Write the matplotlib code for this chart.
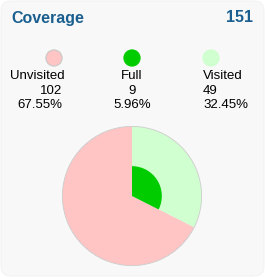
import numpy as np
import matplotlib
matplotlib.use("Agg")
from matplotlib import pyplot as plt
from matplotlib.patches import FancyBboxPatch

title = "Coverage"
total = 151
labels = ["Unvisited", "Full", "Visited"]
counts = [102, 9, 49]
percents = ["67.55%", "5.96%", "32.45%"]
colors = ["#ffc4c4", "#00cc00", "#d0ffd0"]

W, H = 265, 277
plt.rcParams['font.family'] = ['Liberation Sans', 'DejaVu Sans']

fig = plt.figure(figsize=(W / 100, H / 100), dpi=100)
fig.patch.set_facecolor("white")

# background card, pixel coordinates with y pointing down
bg = fig.add_axes([0, 0, 1, 1])
bg.set_xlim(0, W)
bg.set_ylim(H, 0)
bg.axis("off")
bg.add_patch(FancyBboxPatch((1, 1), W - 2, H - 2, boxstyle="round,pad=0,rounding_size=10",
                            fc="#f8f8f8", ec="#f0f0f0", lw=0.6))

title_color = "#1a5f8f"
bg.text(11, 18, title, fontsize=11.5, fontweight="bold", color=title_color, va="center", ha="left")
bg.text(253, 18, str(total), fontsize=11.5, fontweight="bold", color=title_color, va="center", ha="right")

# legend columns
col_x = [54, 132, 211]
text_x = [62, 132, 203]
aligns = ["right", "center", "left"]
edges = ["#c8c8c8", "#00cc00", "#d0ffd0"]
bg.scatter(col_x, [58] * 3, s=135, c=colors, edgecolors=edges, linewidths=0.8, zorder=3)
for i in range(3):
    name_ha = "left" if i == 0 else aligns[i]
    name_x = 10 if i == 0 else text_x[i]
    bg.text(name_x, 79, labels[i], fontsize=9.5, ha=name_ha, va="baseline")
    bg.text(text_x[i], 94, str(counts[i]), fontsize=9.5, ha=aligns[i], va="baseline")
    bg.text(text_x[i], 108.5, percents[i], fontsize=9.5, ha=aligns[i], va="baseline")

# pie
cx, cy, R = 132, 196, 71
pie_ax = fig.add_axes([(cx - R) / W, (H - cy - R) / H, 2 * R / W, 2 * R / H])
visited, unvisited, full = counts[2], counts[0], counts[1]
pie_ax.pie([visited, unvisited], colors=[colors[2], colors[0]], startangle=90, counterclock=False,
           radius=1, wedgeprops=dict(linewidth=0))
inner_r = np.sqrt(full / visited)
pie_ax.pie([visited, unvisited], colors=[colors[1], "none"], startangle=90, counterclock=False,
           radius=inner_r, wedgeprops=dict(linewidth=0))
pie_ax.pie([1], colors=["none"], radius=1, wedgeprops=dict(edgecolor="#cccccc", linewidth=0.6))
pie_ax.set_xlim(-1.02, 1.02)
pie_ax.set_ylim(-1.02, 1.02)
pie_ax.set_aspect("equal")
pie_ax.axis("off")

plt.savefig("out.png", dpi=100, facecolor="white")
